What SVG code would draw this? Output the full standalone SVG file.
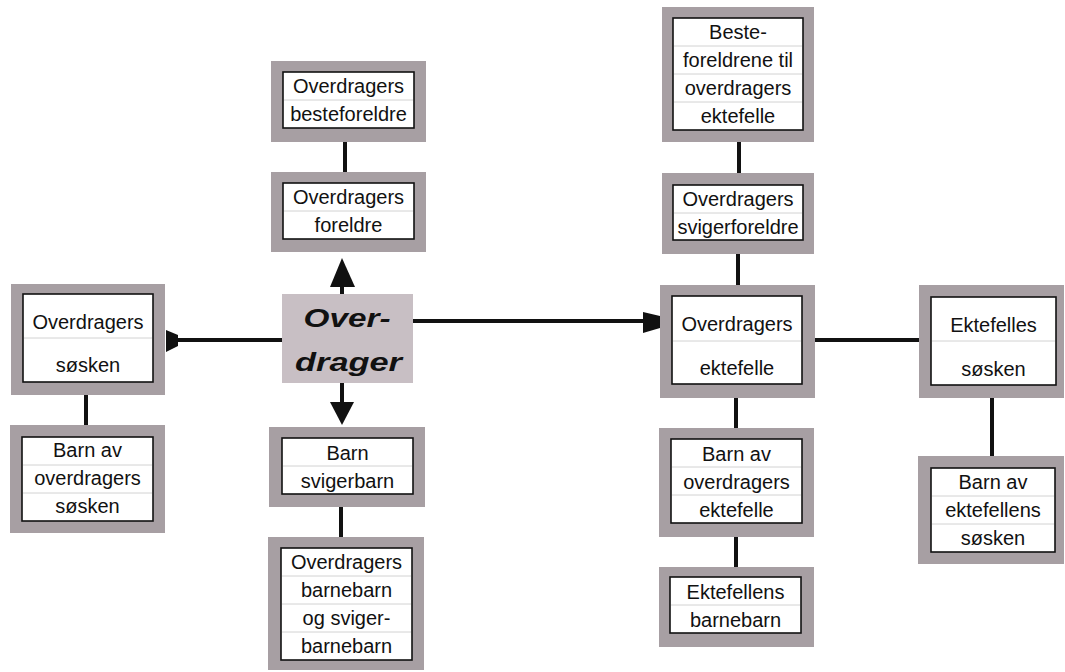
<svg xmlns="http://www.w3.org/2000/svg" width="1065" height="672" viewBox="0 0 1065 672">
<style>
.frame{fill:#a79fa3}
.inner{fill:#fff;stroke:#111;stroke-width:1.6}
.div{stroke:#d2d2d2;stroke-width:1}
.t{font-family:"Liberation Sans",Arial,sans-serif;font-size:20px;fill:#111;text-anchor:middle}
.big{font-family:"Liberation Sans",Arial,sans-serif;font-size:26px;font-weight:bold;font-style:italic;fill:#111;text-anchor:middle}
.line{stroke:#111;stroke-width:4;fill:none}
.head{fill:#111}
</style>
<rect width="1065" height="672" fill="#fff"/>
<g id="connectors">
<line class="line" x1="345" y1="142" x2="345" y2="172"/>
<line class="line" x1="342" y1="294" x2="342" y2="285"/>
<path class="head" d="M342,258 L355,287 L330,287 Z"/>
<line class="line" x1="342" y1="383" x2="342" y2="404"/>
<path class="head" d="M330,402 L354,402 L342,425 Z"/>
<line class="line" x1="341" y1="507" x2="341" y2="537"/>
<line class="line" x1="282" y1="340" x2="176" y2="340"/>
<path class="head" d="M166,330 L178,335 L178,346 L166,352 Z"/>
<line class="line" x1="413" y1="321" x2="645" y2="321"/>
<path class="head" d="M643,312 L660,316 L660,328 L643,333 Z"/>
<line class="line" x1="86" y1="395" x2="86" y2="425"/>
<line class="line" x1="739" y1="142" x2="739" y2="173"/>
<line class="line" x1="738" y1="254" x2="738" y2="285"/>
<line class="line" x1="736" y1="398" x2="736" y2="428"/>
<line class="line" x1="736" y1="537" x2="736" y2="567"/>
<line class="line" x1="815" y1="340" x2="919" y2="340"/>
<line class="line" x1="992" y1="398" x2="992" y2="456"/>
</g>
<g id="n-besteforeldre">
<rect class="frame" x="271" y="61" width="155" height="81"/>
<rect class="inner" x="283" y="72" width="131" height="56"/>
<line class="div" x1="284" y1="100" x2="413" y2="100"/>
<text class="t" x="348.5" y="93">Overdragers</text>
<text class="t" x="348.5" y="121">besteforeldre</text>
</g>
<g id="n-foreldre">
<rect class="frame" x="271" y="172" width="155" height="80"/>
<rect class="inner" x="283" y="183" width="131" height="56"/>
<line class="div" x1="284" y1="211" x2="413" y2="211"/>
<text class="t" x="348.5" y="204">Overdragers</text>
<text class="t" x="348.5" y="232">foreldre</text>
</g>
<g id="n-overdrager">
<rect x="282" y="294" width="131" height="89" fill="#c8bfc4"/>
<text class="big" x="347" y="327" textLength="87" lengthAdjust="spacingAndGlyphs">Over-</text>
<text class="big" x="348.5" y="371" textLength="107" lengthAdjust="spacingAndGlyphs">drager</text>
</g>
<g id="n-sosken">
<rect class="frame" x="11" y="284" width="154" height="111"/>
<rect class="inner" x="23" y="294" width="130" height="88"/>
<line class="div" x1="24" y1="338" x2="152" y2="338"/>
<text class="t" x="88" y="329">Overdragers</text>
<text class="t" x="88" y="372">søsken</text>
</g>
<g id="n-barn-sosken">
<rect class="frame" x="10" y="425" width="155" height="108"/>
<rect class="inner" x="22" y="437" width="131" height="84"/>
<line class="div" x1="23" y1="465" x2="152" y2="465"/>
<line class="div" x1="23" y1="493" x2="152" y2="493"/>
<text class="t" x="87.5" y="457">Barn av</text>
<text class="t" x="87.5" y="485">overdragers</text>
<text class="t" x="87.5" y="513">søsken</text>
</g>
<g id="n-barn">
<rect class="frame" x="269" y="427" width="156" height="80"/>
<rect class="inner" x="282" y="438" width="131" height="56"/>
<line class="div" x1="283" y1="466" x2="412" y2="466"/>
<text class="t" x="347.5" y="460">Barn</text>
<text class="t" x="347.5" y="488">svigerbarn</text>
</g>
<g id="n-barnebarn">
<rect class="frame" x="268" y="537" width="156" height="133"/>
<rect class="inner" x="281" y="548" width="131" height="112"/>
<line class="div" x1="282" y1="576" x2="411" y2="576"/>
<line class="div" x1="282" y1="604" x2="411" y2="604"/>
<line class="div" x1="282" y1="632" x2="411" y2="632"/>
<text class="t" x="346.5" y="569">Overdragers</text>
<text class="t" x="346.5" y="597">barnebarn</text>
<text class="t" x="346.5" y="625">og sviger-</text>
<text class="t" x="346.5" y="653">barnebarn</text>
</g>
<g id="n-beste-ektefelle">
<rect class="frame" x="662" y="7" width="152" height="135"/>
<rect class="inner" x="673" y="18" width="130" height="112"/>
<line class="div" x1="674" y1="46" x2="802" y2="46"/>
<line class="div" x1="674" y1="74" x2="802" y2="74"/>
<line class="div" x1="674" y1="102" x2="802" y2="102"/>
<text class="t" x="738" y="39">Beste-</text>
<text class="t" x="738" y="67">foreldrene til</text>
<text class="t" x="738" y="95">overdragers</text>
<text class="t" x="738" y="123">ektefelle</text>
</g>
<g id="n-svigerforeldre">
<rect class="frame" x="662" y="173" width="152" height="81"/>
<rect class="inner" x="673" y="185" width="130" height="55"/>
<line class="div" x1="674" y1="213" x2="802" y2="213"/>
<text class="t" x="738" y="206">Overdragers</text>
<text class="t" x="738" y="234">svigerforeldre</text>
</g>
<g id="n-ektefelle">
<rect class="frame" x="660" y="285" width="155" height="113"/>
<rect class="inner" x="672" y="296" width="130" height="88"/>
<line class="div" x1="673" y1="341" x2="801" y2="341"/>
<text class="t" x="737" y="331">Overdragers</text>
<text class="t" x="737" y="375">ektefelle</text>
</g>
<g id="n-ektefelles-sosken">
<rect class="frame" x="919" y="285" width="145" height="113"/>
<rect class="inner" x="931" y="297" width="125" height="88"/>
<line class="div" x1="932" y1="341" x2="1055" y2="341"/>
<text class="t" x="993.5" y="332">Ektefelles</text>
<text class="t" x="993.5" y="376">søsken</text>
</g>
<g id="n-barn-ektefelles-sosken">
<rect class="frame" x="918" y="456" width="146" height="108"/>
<rect class="inner" x="931" y="468" width="124" height="84"/>
<line class="div" x1="932" y1="496" x2="1054" y2="496"/>
<line class="div" x1="932" y1="524" x2="1054" y2="524"/>
<text class="t" x="993" y="489">Barn av</text>
<text class="t" x="993" y="517">ektefellens</text>
<text class="t" x="993" y="545">søsken</text>
</g>
<g id="n-barn-ektefelle">
<rect class="frame" x="659" y="428" width="155" height="109"/>
<rect class="inner" x="671" y="439" width="131" height="84"/>
<line class="div" x1="672" y1="467" x2="801" y2="467"/>
<line class="div" x1="672" y1="495" x2="801" y2="495"/>
<text class="t" x="736.5" y="461">Barn av</text>
<text class="t" x="736.5" y="489">overdragers</text>
<text class="t" x="736.5" y="517">ektefelle</text>
</g>
<g id="n-ektefellens-barnebarn">
<rect class="frame" x="659" y="567" width="155" height="80"/>
<rect class="inner" x="670" y="577" width="131" height="56"/>
<line class="div" x1="671" y1="605" x2="800" y2="605"/>
<text class="t" x="735.5" y="599">Ektefellens</text>
<text class="t" x="735.5" y="627">barnebarn</text>
</g>
</svg>
